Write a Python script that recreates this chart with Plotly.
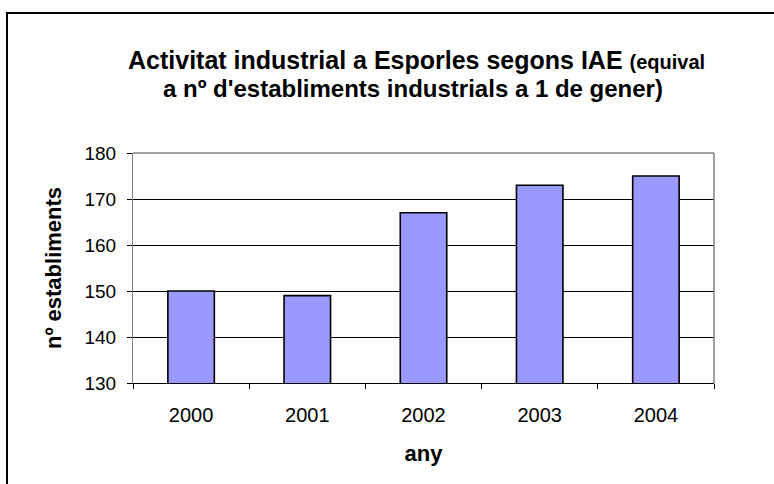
import plotly.graph_objects as go

years = ["2000", "2001", "2002", "2003", "2004"]
establiments = [150, 149, 167, 173, 175]
y_ticks = [130, 140, 150, 160, 170, 180]

W, H = 774, 484
L, R, T, B = 133, 60, 153, 101
pw, ph = W - L - R, H - T - B

def px_x(x):
    return (x - L) / pw

def px_y(y):
    return 1 - (y - T) / ph

fig = go.Figure(go.Bar(
    x=years, y=establiments,
    marker=dict(color="#9999FF", line=dict(color="black", width=1.6)),
    width=0.4,
))

font = "Liberation Sans, Arial, sans-serif"
fig.update_layout(
    width=W, height=H,
    margin=dict(l=L, r=R, t=T, b=B),
    paper_bgcolor="white", plot_bgcolor="white",
    showlegend=False,
    font=dict(family=font, color="black", size=16),
    xaxis=dict(
        type="category", tickson="boundaries", ticks="outside", ticklen=5,
        tickcolor="black", showline=True, linecolor="black", linewidth=1,
        showgrid=False, ticklabelstandoff=14,
        tickfont=dict(size=20),
        title=dict(text="<b>any</b>", font=dict(size=22), standoff=20),
    ),
    yaxis=dict(
        range=[130, 180], tickvals=y_ticks, ticks="outside", ticklen=5,
        tickcolor="black", showline=True, linecolor="#808080", linewidth=1,
        showgrid=True, gridcolor="black", gridwidth=1, zeroline=False,
        ticklabelstandoff=7, tickfont=dict(size=19),
        title=dict(text="<b>nº establiments</b>", font=dict(size=22), standoff=16),
    ),
    shapes=[
        dict(type="line", xref="paper", yref="paper", x0=0, x1=1, y0=1, y1=1,
             line=dict(color="#808080", width=1.5)),
        dict(type="line", xref="paper", yref="paper", x0=1, x1=1, y0=0, y1=1,
             line=dict(color="#808080", width=1.5)),
        dict(type="rect", xref="paper", yref="paper",
             x0=px_x(7), x1=px_x(830), y0=px_y(13), y1=px_y(540),
             line=dict(color="black", width=2), layer="above"),
    ],
    annotations=[
        dict(xref="paper", yref="paper", x=px_x(416), y=px_y(60),
             text="<b>Activitat industrial a Esporles segons IAE <span style='font-size:20px'>(equival</span></b>",
             showarrow=False, font=dict(size=25), xanchor="center", yanchor="middle"),
        dict(xref="paper", yref="paper", x=px_x(413), y=px_y(88),
             text="<b>a nº d'establiments industrials a 1 de gener)</b>",
             showarrow=False, font=dict(size=24), xanchor="center", yanchor="middle"),
    ],
)

fig.write_html("out.html", post_script="document.body.style.margin='0';",
               config={"displayModeBar": False})
